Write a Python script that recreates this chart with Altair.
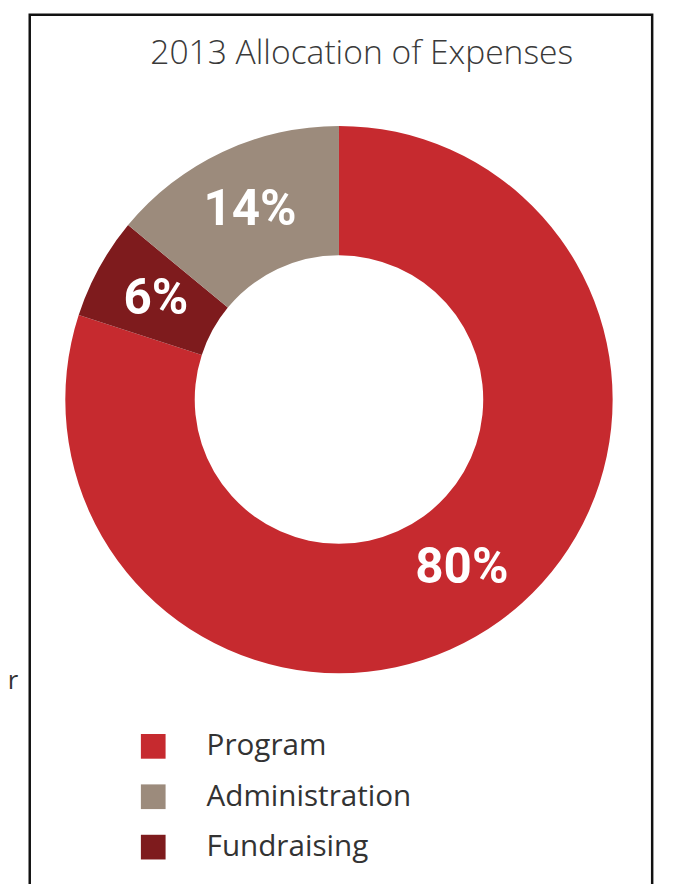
import altair as alt
import pandas as pd

categories = ["Program", "Fundraising", "Administration"]
values = [80, 6, 14]
labels = ["80%", "6%", "14%"]
stack_order = [0, 1, 2]
legend_order = ["Program", "Administration", "Fundraising"]
colors = ["#c62a2f", "#9c8b7c", "#7e1b1d"]

df = pd.DataFrame({"category": categories, "value": values,
                   "label": labels, "ord": stack_order})

CX, CY = 327, 391
R_OUT, R_IN = 277, 146

color = alt.Color("category:N",
                  scale=alt.Scale(domain=legend_order, range=colors),
                  legend=alt.Legend(orient="none", legendX=124, legendY=727,
                                    title=None, symbolType="square",
                                    symbolSize=625, symbolStrokeWidth=0,
                                    symbolOpacity=1, labelLimit=600,
                                    labelFont="Open Sans", labelFontSize=30,
                                    labelColor="#333333", labelOffset=39,
                                    rowPadding=21, padding=0))

base = alt.Chart(df)

arcs = base.mark_arc(radius=R_OUT, radius2=R_IN, stroke=None).encode(
    theta=alt.Theta("value:Q", stack=True),
    order=alt.Order("ord:Q"),
    color=color,
    x=alt.value(CX), y=alt.value(CY),
)

texts = base.mark_text(radius=(R_OUT + R_IN) / 2, fontSize=50, fontWeight="bold",
                       font="Roboto",
                       color="white", align="center", baseline="middle").encode(
    theta=alt.Theta("value:Q", stack=True),
    order=alt.Order("ord:Q"),
    text="label:N",
    x=alt.value(CX), y=alt.value(CY),
)

title = alt.Chart(pd.DataFrame({"t": ["2013 Allocation of Expenses"]})).mark_text(
    font="Open Sans", fontSize=34, fontWeight=300, color="#3a3a3a",
    align="center", baseline="middle"
).encode(text="t:N", x=alt.value(350), y=alt.value(41))

stray = alt.Chart(pd.DataFrame({"t": ["r"]})).mark_text(
    font="Open Sans", fontSize=26, color="#333333", align="center", baseline="middle"
).encode(text="t:N", x=alt.value(-3), y=alt.value(676))

border = alt.Chart(pd.DataFrame({"a": [0]})).mark_rect(
    fill=None, stroke="#111111", strokeWidth=2.5
).encode(x=alt.value(14), x2=alt.value(644), y=alt.value(1.5), y2=alt.value(940))

chart = alt.layer(border, arcs, texts, title, stray).properties(
    width=658, height=876,
    autosize=alt.AutoSizeParams(type="none"),
    padding={"left": 8, "top": 0, "right": 0, "bottom": 0},
).configure_view(stroke=None)

chart.save("out.html", embed_options={"renderer": "svg", "actions": False})
